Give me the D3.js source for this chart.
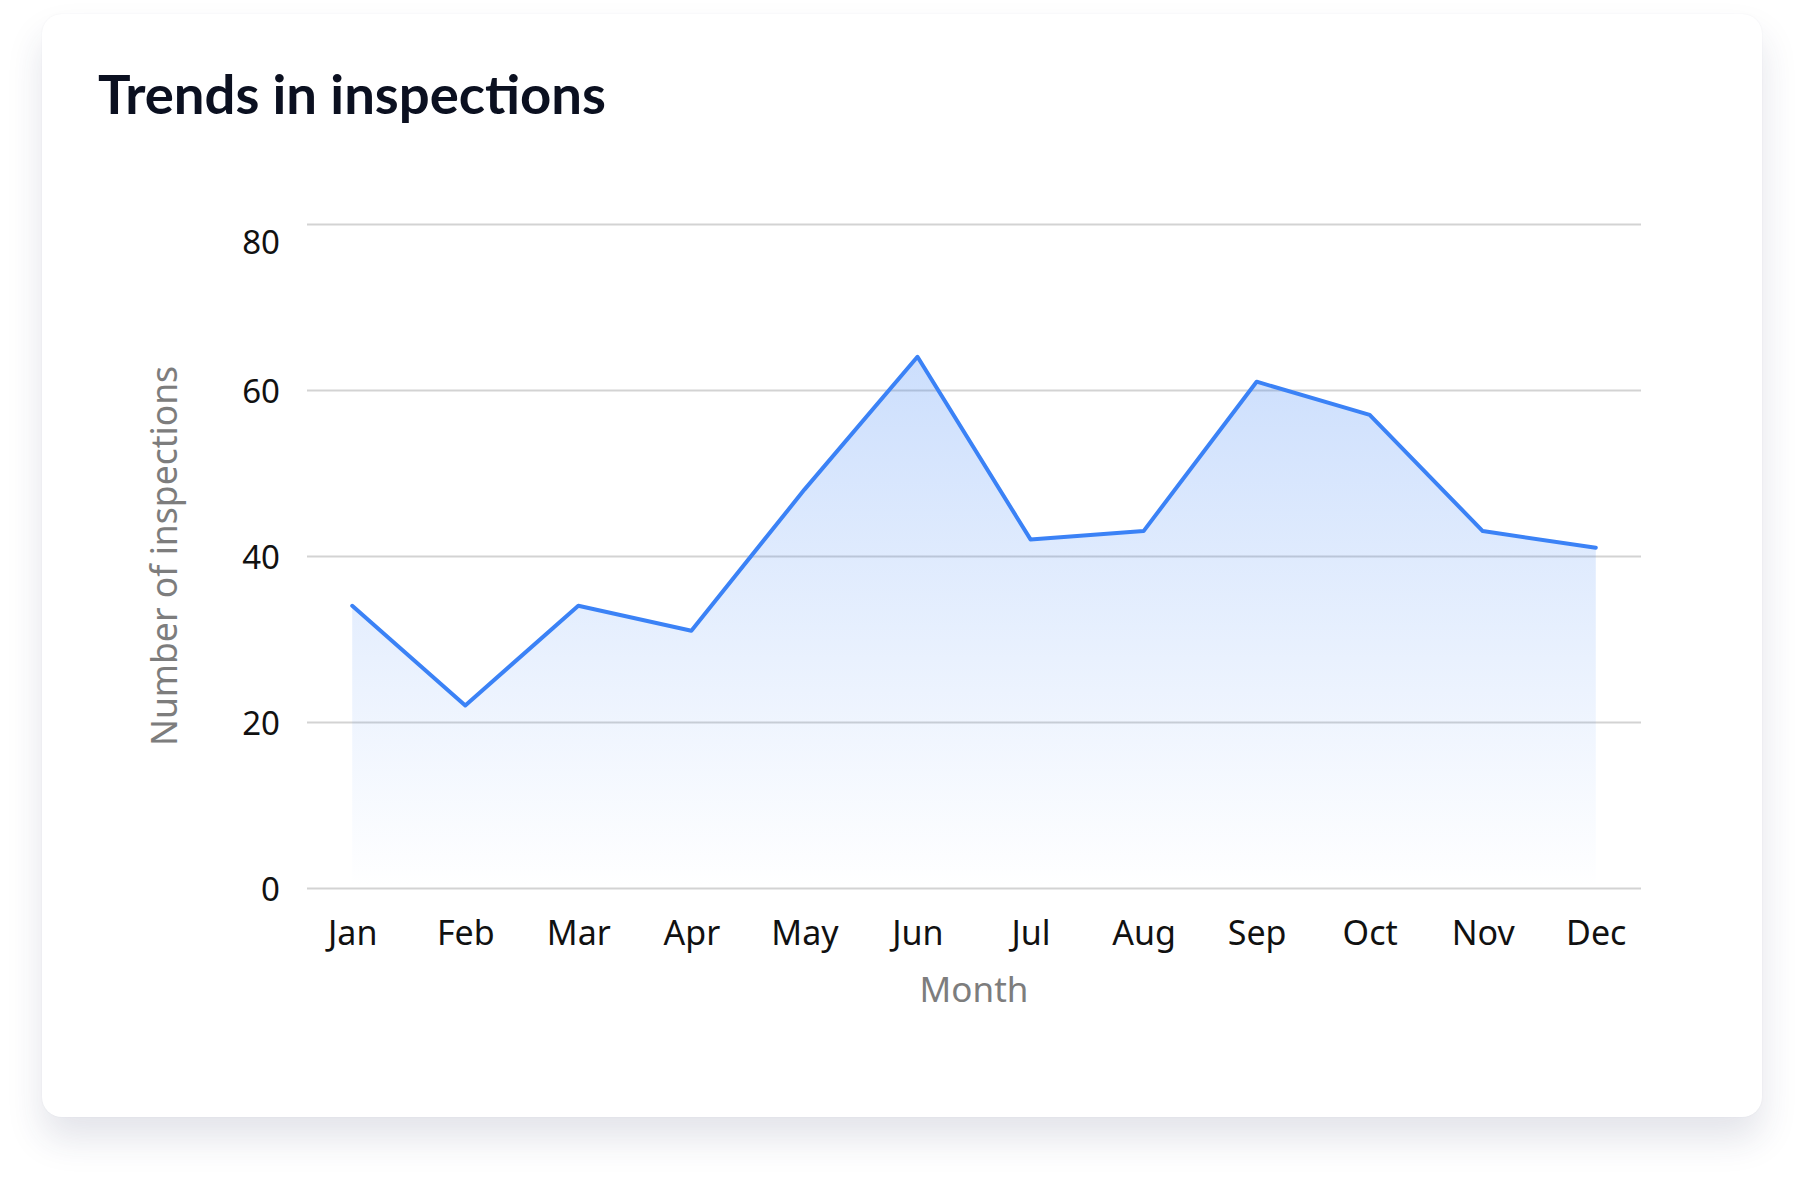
<!DOCTYPE html>
<html>
<head>
<meta charset="utf-8">
<script src="https://cdn.jsdelivr.net/npm/d3@7"></script>
<style>
  html, body { margin: 0; padding: 0; background: #ffffff; width: 1804px; height: 1196px; overflow: hidden; }
  #card {
    position: absolute; left: 42px; top: 14px; width: 1720px; height: 1103px;
    background: #ffffff; border-radius: 20px;
    box-shadow: 0 22px 36px rgba(40, 50, 90, 0.13), 0 0 2px rgba(40, 50, 90, 0.06);
  }
  svg { position: absolute; left: 0; top: 0; }
</style>
</head>
<body>
<div id="card"></div>
<svg id="chart" width="1804" height="1196"></svg>
<script>
const months = ["Jan","Feb","Mar","Apr","May","Jun","Jul","Aug","Sep","Oct","Nov","Dec"];
const inspections = [34, 22, 34, 31, 48, 64, 42, 43, 61, 57, 43, 41];
const yTicks = [0, 20, 40, 60, 80];
const chartTitle = "Trends in inspections";
const xTitle = "Month";
const yTitle = "Number of inspections";

(function () {
const svg = d3.select("#chart");
const pLeft = 307, pRight = 1641, pTop = 224, pBottom = 888;

const x = d3.scalePoint().domain(months).range([pLeft, pRight]).padding(0.4);
const y = d3.scaleLinear().domain([0, 80]).range([pBottom, pTop]);

// gradient
const defs = svg.append("defs");
const grad = defs.append("linearGradient").attr("id", "areaGrad")
  .attr("gradientUnits", "userSpaceOnUse")
  .attr("x1", 0).attr("x2", 0)
  .attr("y1", y(d3.max(inspections))).attr("y2", y(0));
grad.append("stop").attr("offset", "0%").attr("stop-color", "#3b82f6").attr("stop-opacity", 0.26);
grad.append("stop").attr("offset", "100%").attr("stop-color", "#3b82f6").attr("stop-opacity", 0.0);

// title
const title = svg.append("text")
  .attr("x", 98).attr("y", 114)
  .attr("font-family", "Lato, 'Open Sans', sans-serif")
  .attr("font-weight", 700)
  .attr("font-size", 54)
  .attr("fill", "#0b1020")
  .text(chartTitle);
const tw = title.node().getComputedTextLength();
if (Math.abs(tw - 508) > 4) title.attr("textLength", 508).attr("lengthAdjust", "spacingAndGlyphs");

// grid + y axis
const yAxis = d3.axisLeft(y).tickValues(yTicks).tickSize(-(pRight - pLeft)).tickPadding(27);
const gy = svg.append("g").attr("transform", `translate(${pLeft},0)`).call(yAxis);
gy.select(".domain").remove();
gy.selectAll(".tick line").attr("stroke", "#d3d3d3").attr("stroke-width", 2);
gy.selectAll(".tick text")
  .attr("font-family", "'Noto Sans', 'Open Sans', sans-serif")
  .attr("font-size", 33)
  .attr("fill", "#111111")
  .attr("dy", null)
  .attr("dominant-baseline", "central")
  .attr("y", d => d === 80 ? 17 : 0);

// x axis
const xAxis = d3.axisBottom(x).tickSize(0).tickPadding(0);
const gx = svg.append("g").attr("transform", `translate(0,${pBottom})`).call(xAxis);
gx.select(".domain").remove();
gx.selectAll(".tick text")
  .attr("font-family", "'Noto Sans', 'Open Sans', sans-serif")
  .attr("font-size", 34)
  .attr("fill", "#111111")
  .attr("dy", null)
  .attr("y", 57);

// area + line
const area = d3.area().x(d => x(d.m)).y0(y(0)).y1(d => y(d.v));
const line = d3.line().x(d => x(d.m)).y(d => y(d.v));
const data = months.map((m, i) => ({ m, v: inspections[i] }));

svg.append("path").datum(data).attr("d", area).attr("fill", "url(#areaGrad)");
svg.append("path").datum(data).attr("d", line)
  .attr("fill", "none").attr("stroke", "#3b82f6").attr("stroke-width", 4)
  .attr("stroke-linejoin", "round").attr("stroke-linecap", "round");

// axis titles
svg.append("text")
  .attr("x", (pLeft + pRight) / 2).attr("y", 1002)
  .attr("text-anchor", "middle")
  .attr("font-family", "'Noto Sans', 'Open Sans', sans-serif")
  .attr("font-size", 35)
  .attr("fill", "#7d7d7d")
  .text(xTitle);

svg.append("text")
  .attr("transform", `translate(177,${(pTop + pBottom) / 2}) rotate(-90)`)
  .attr("text-anchor", "middle")
  .attr("font-family", "'Noto Sans', 'Open Sans', sans-serif")
  .attr("font-size", 35.5)
  .attr("fill", "#7d7d7d")
  .text(yTitle);
})();
</script>
</body>
</html>
